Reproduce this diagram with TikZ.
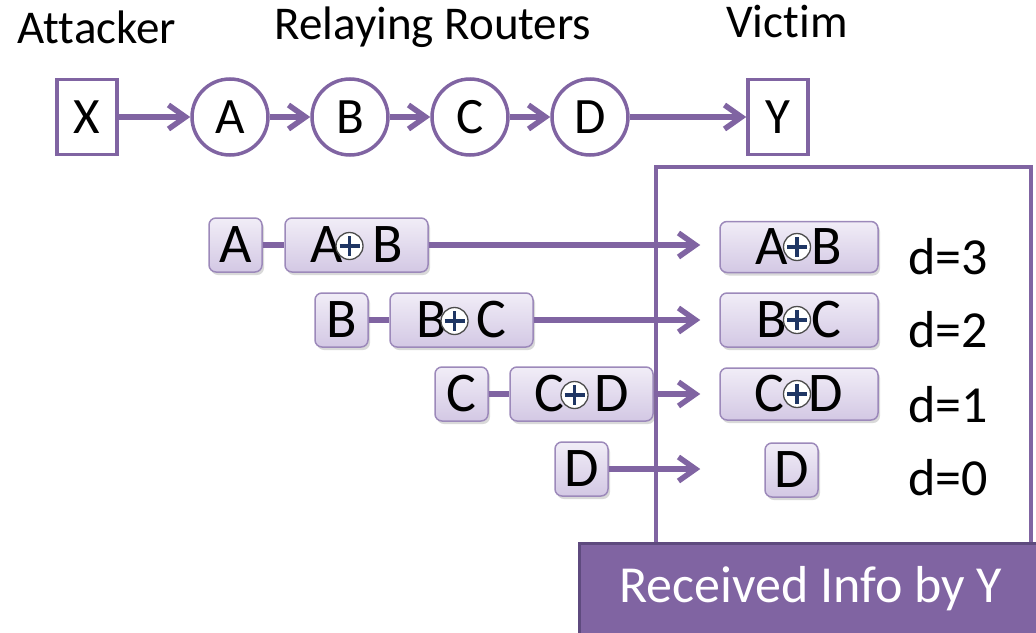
\documentclass[tikz,border=0pt]{standalone}
\usepackage{fontspec}
\setmainfont{Carlito}[Ligatures=CommonOff]
\usetikzlibrary{arrows.meta,shadows,calc}
\definecolor{purp}{HTML}{8064A2}
\definecolor{purpdark}{HTML}{5E4A7E}
\definecolor{pktborder}{HTML}{9C89BA}
\definecolor{pkttop}{HTML}{F1EDF7}
\definecolor{pktbot}{HTML}{D3C8E4}
\definecolor{plusnavy}{HTML}{1F3664}
\begin{document}
\begin{tikzpicture}[x=1pt,y=-1pt,
  lbl/.style={inner sep=0pt, font=\fontsize{47}{50}\selectfont},
  rtr/.style={circle, draw=purp, line width=3.5pt, minimum size=76pt, inner sep=0pt, font=\fontsize{51}{54}\selectfont},
  host/.style={rectangle, draw=purp, line width=3.5pt, minimum width=60pt, minimum height=75pt, inner sep=0pt, font=\fontsize{51}{54}\selectfont},
  arr/.style={draw=purp, line width=5.5pt, -{Straight Barb[length=17pt,width=24pt]}},
  link/.style={draw=purp, line width=5.5pt},
  pkt/.style={rounded corners=7pt, draw=pktborder, line width=1.5pt, top color=pkttop, bottom color=pktbot,
    drop shadow={opacity=0.3, shadow xshift=2pt, shadow yshift=-3pt},
    minimum height=54pt, inner sep=0pt, font=\fontsize{56}{58}\selectfont},
  xorsym/.style={circle, draw=black!70, fill=white, line width=1.3pt, minimum size=27pt, inner sep=0pt,
    path picture={
      \draw[plusnavy, line width=3.6pt]
        ([yshift=-3.5pt]path picture bounding box.north) -- ([yshift=3.5pt]path picture bounding box.south)
        ([xshift=3.5pt]path picture bounding box.west) -- ([xshift=-3.5pt]path picture bounding box.east);}},
  dlbl/.style={inner sep=0pt, font=\fontsize{52}{56}\selectfont},
  banner/.style={rectangle, fill=purp, draw=purpdark, line width=3pt, text=white, inner sep=0pt,
    minimum width=462pt, minimum height=91pt, font=\fontsize{52}{56}\selectfont}
]
\useasboundingbox (0,0) rectangle (1036,632);

% headings
\node[lbl] (tatt) at (97,27) {Attacker};
\node[lbl] (trel) at (433,27) {Relaying Routers};
\node[lbl] (tvic) at (787,22) {Victim};

% attack path
\node[host] (X) at (87,117) {X};
\node[rtr] (A) at (230,117) {A};
\node[rtr] (B) at (350,117) {B};
\node[rtr] (C) at (470,117) {C};
\node[rtr] (D) at (590,117) {D};
\node[host] (Y) at (778,117) {Y};
\draw[arr] (X) -- (A);
\draw[arr] (A) -- (B);
\draw[arr] (B) -- (C);
\draw[arr] (C) -- (D);
\draw[arr] (D) -- (Y);

% receiver frame
\node[draw=purp, line width=4pt, minimum width=375pt, minimum height=380pt, inner sep=0pt] (frame) at (843.5,357) {};

% marks sent by each router
\node[pkt, minimum width=53pt] (ma) at (235.5,245) {A};
\node[pkt, minimum width=143pt] (mab) at (356.5,245) {A\hspace{30pt}B};
\node[pkt, minimum width=53pt] (mb) at (341.5,320) {B};
\node[pkt, minimum width=143pt] (mbc) at (461.5,320) {B\hspace{30pt}C};
\node[pkt, minimum width=53pt] (mc) at (461.5,394) {C};
\node[pkt, minimum width=143pt] (mcd) at (581.5,394) {C\hspace{30pt}D};
\node[pkt, minimum width=53pt] (md) at (581.5,469) {D};

\node[xorsym] (xab) at ($(mab.center)+(-7,1)$) {};
\node[xorsym] (xbc) at ($(mbc.center)+(-7,1)$) {};
\node[xorsym] (xcd) at ($(mcd.center)+(-7,1)$) {};

% marks as received by Y
\node[pkt, minimum width=158pt, minimum height=51pt] (rab) at (799,247) {A\hspace{24pt}B};
\node[pkt, minimum width=158pt] (rbc) at (799,320) {B\hspace{24pt}C};
\node[pkt, minimum width=158pt, minimum height=52pt] (rcd) at (799,394) {C\hspace{24pt}D};
\node[pkt, minimum width=53pt] (rd) at (791.5,470) {D};

\node[xorsym] (yab) at ($(rab.center)+(-2,0)$) {};
\node[xorsym] (ybc) at ($(rbc.center)+(-2,0)$) {};
\node[xorsym] (ycd) at ($(rcd.center)+(-2,0)$) {};

% connectors
\draw[link] (ma) -- (mab);
\draw[link] (mb) -- (mbc);
\draw[link] (mc) -- (mcd);
\draw[arr, shorten >=19pt] (mab.east) -- (rab.west |- mab.east);
\draw[arr, shorten >=19pt] (mbc.east) -- (rbc.west |- mbc.east);
\draw[arr, shorten >=19pt] (mcd.east) -- (rcd.west |- mcd.east);
\draw[arr, shorten >=19pt] (md.east) -- (rcd.west |- md.east);

% distance labels
\node[dlbl] (d3) at (948,257) {d=3};
\node[dlbl] (d2) at (948,330) {d=2};
\node[dlbl] (d1) at (948,405) {d=1};
\node[dlbl] (d0) at (948,478) {d=0};

% caption banner
\node[banner] (cap) at (810.5,588.5) {Received Info by Y};
\end{tikzpicture}
\end{document}
